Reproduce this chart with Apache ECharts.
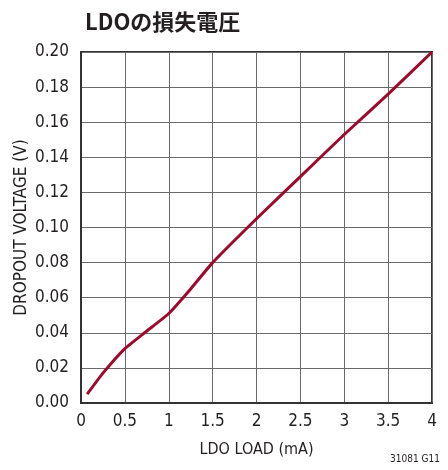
<!DOCTYPE html>
<html>
<head>
<meta charset="utf-8">
<script src="https://cdn.jsdelivr.net/npm/echarts@6/dist/echarts.min.js"></script>
<style>
  html, body { margin: 0; padding: 0; background: #fff; }
  #chart { width: 448px; height: 470px; }
</style>
</head>
<body>
<div id="chart"></div>
<script>
// LDO dropout voltage versus load current
const loadCurrent = [0.07, 0.25, 0.5, 0.75, 1.0, 1.25, 1.5, 2.0, 2.5, 3.0, 3.5, 4.0];   // mA
const dropoutVoltage = [0.005, 0.017, 0.031, 0.041, 0.051, 0.065, 0.080, 0.105, 0.129, 0.153, 0.176, 0.200]; // V
const xTicks = ['0', '0.5', '1', '1.5', '2', '2.5', '3', '3.5', '4'];
const yTicks = ['0.00', '0.02', '0.04', '0.06', '0.08', '0.10', '0.12', '0.14', '0.16', '0.18', '0.20'];

const FONT = '"DejaVu Sans Condensed", Roboto, sans-serif';
const INK = '#231f20';
const chart = echarts.init(document.getElementById('chart'), null, { renderer: 'canvas' });

chart.setOption({
  animation: false,
  backgroundColor: '#ffffff',
  title: [{
    text: 'LDOの損失電圧',
    left: 80, top: 6,
    textStyle: { fontFamily: '"Noto Sans CJK JP", sans-serif', fontWeight: 'bold', fontSize: 22, color: INK }
  }, {
    text: '31081 G11',
    right: 3, bottom: 1,
    textStyle: { fontFamily: FONT, fontWeight: 'normal', fontSize: 10, color: INK }
  }],
  grid: { left: 81, right: 16, top: 52, bottom: 67, show: true, borderColor: '#333', borderWidth: 2 },
  xAxis: {
    type: 'value', min: 0, max: 4, interval: 0.5,
    name: 'LDO LOAD (mA)', nameLocation: 'middle', nameGap: 39,
    nameTextStyle: { fontFamily: FONT, fontSize: 16, color: INK },
    axisLine: { show: true, lineStyle: { color: '#333', width: 2 } },
    axisTick: { show: false },
    axisLabel: {
      margin: 10, fontFamily: FONT, fontSize: 17, color: INK,
      formatter: (v) => xTicks[Math.round(v / 0.5)]
    },
    splitLine: { show: true, lineStyle: { color: '#6a6a6a', width: 1 } }
  },
  yAxis: {
    type: 'value', min: 0, max: 0.2, interval: 0.02,
    name: 'DROPOUT VOLTAGE (V)', nameLocation: 'middle', nameGap: 51, nameRotate: 90,
    nameMoveOverlap: false,
    nameTextStyle: { fontFamily: FONT, fontSize: 17, color: INK },
    axisLine: { show: true, lineStyle: { color: '#333', width: 2 } },
    axisTick: { show: false },
    axisLabel: {
      margin: 12, fontFamily: FONT, fontSize: 17, color: INK,
      formatter: (v) => yTicks[Math.round(v / 0.02)]
    },
    splitLine: { show: true, lineStyle: { color: '#6a6a6a', width: 1 } }
  },
  series: [{
    type: 'line',
    data: loadCurrent.map((x, i) => [x, dropoutVoltage[i]]),
    smooth: 0.15,
    showSymbol: false,
    lineStyle: { color: '#9e0a2d', width: 3 }
  }]
});
</script>
</body>
</html>
